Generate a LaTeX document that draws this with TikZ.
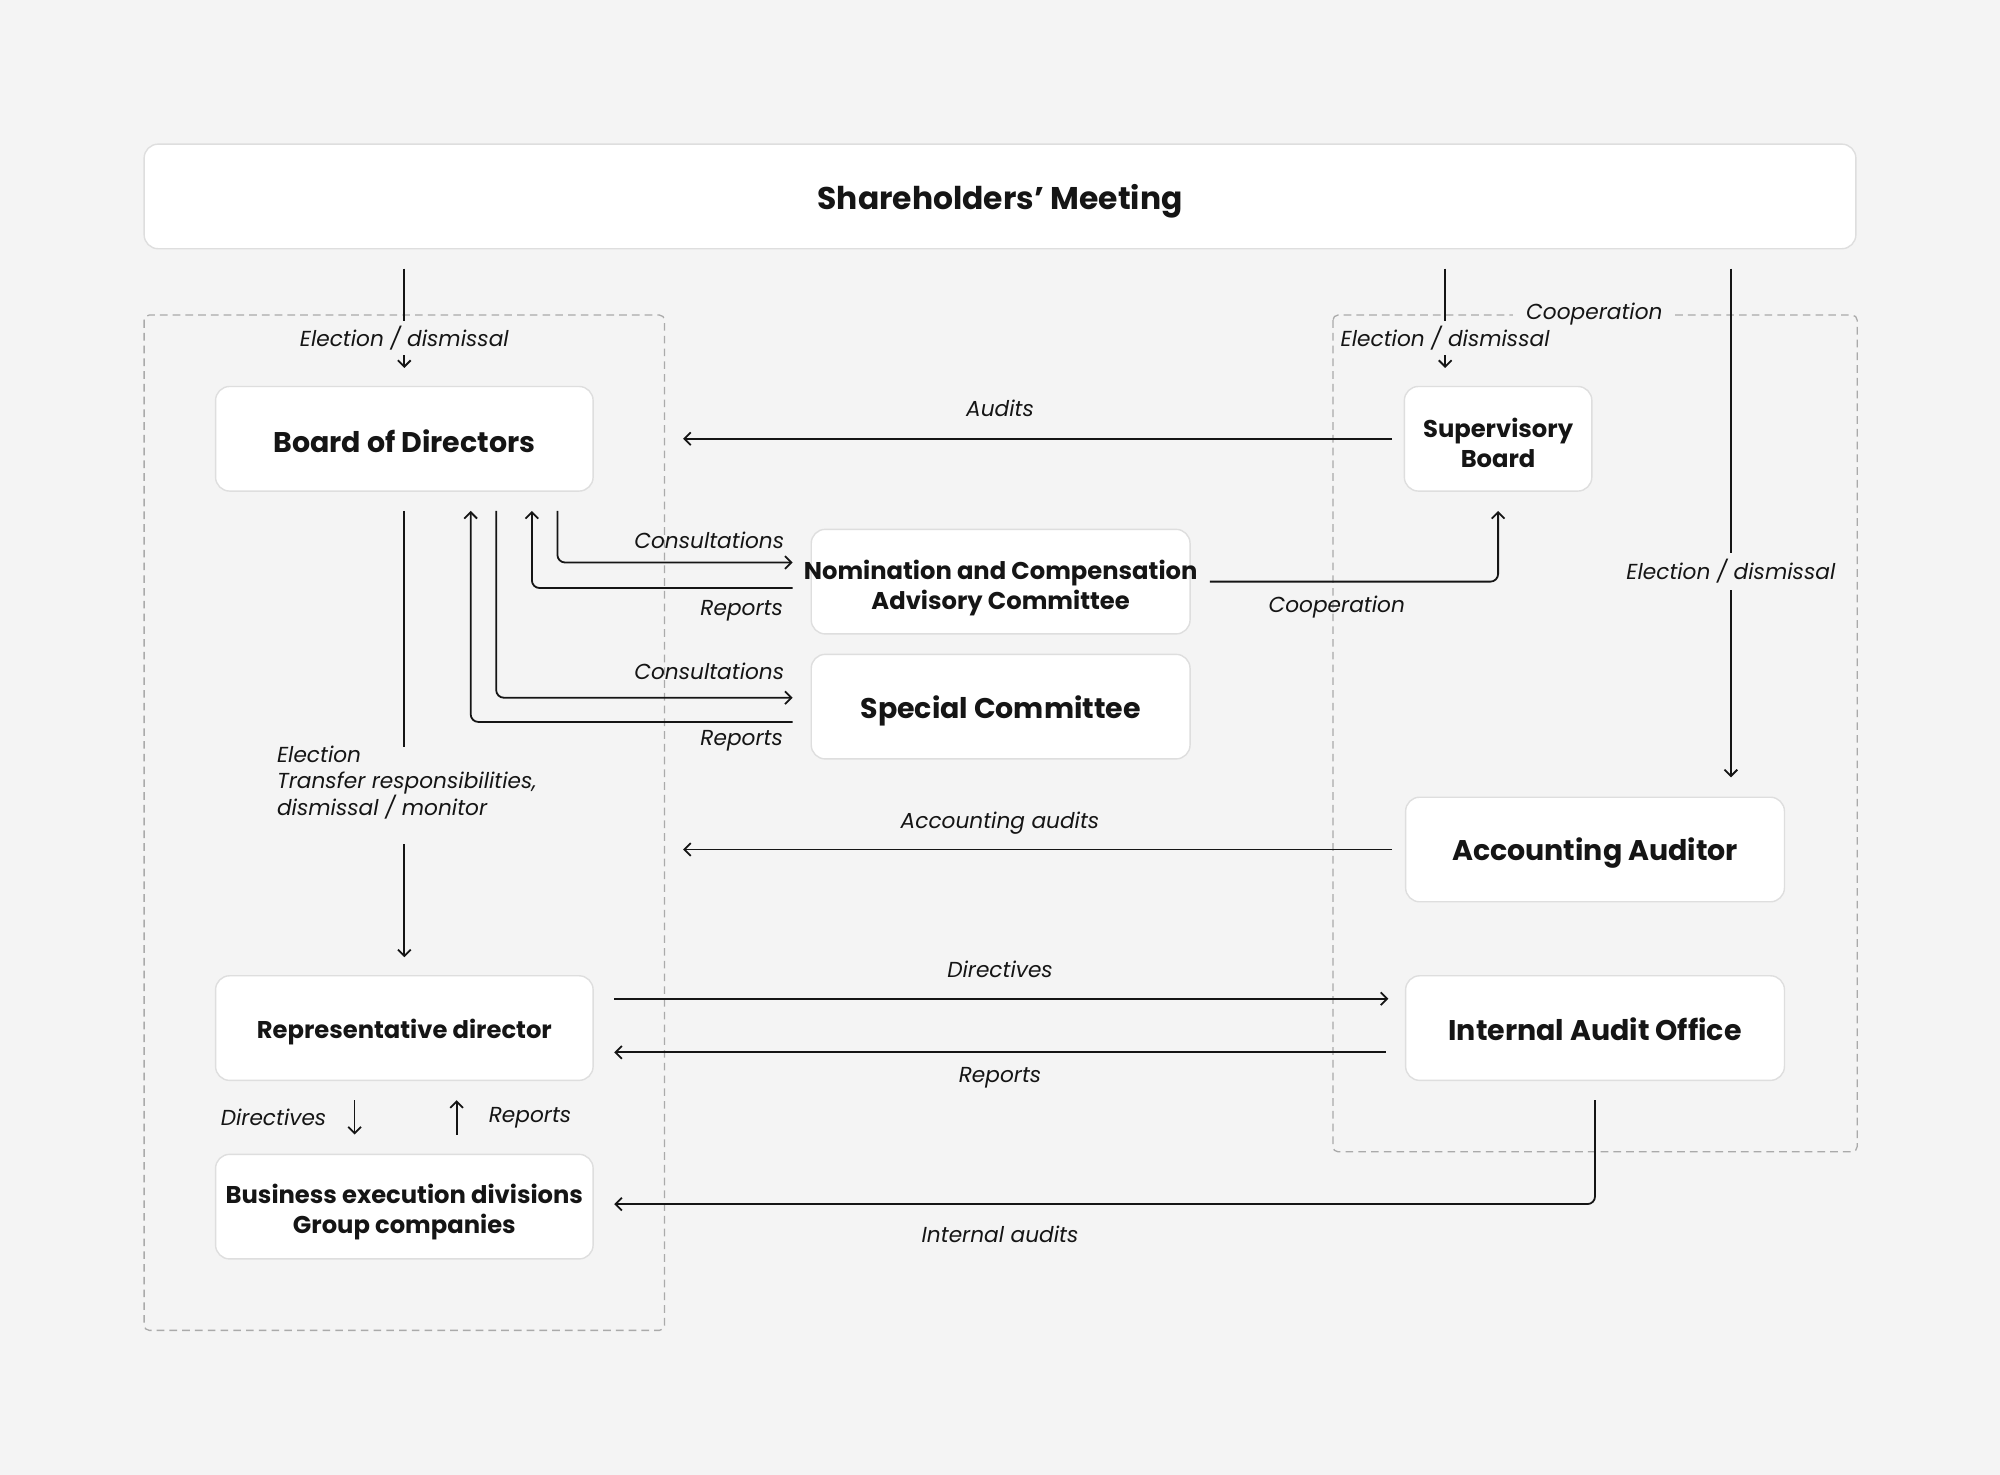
\documentclass[tikz,border=0pt]{standalone}
\usepackage{fontspec}
\setmainfont{Poppins}
\usetikzlibrary{arrows.meta,calc}
\definecolor{bgc}{HTML}{F4F4F4}
\definecolor{boxline}{HTML}{DEDEDE}
\definecolor{dashc}{HTML}{AAAAAA}
\definecolor{ink}{HTML}{151515}
\tikzset{
  x=1pt, y=-1pt,
  box/.style={draw=boxline, line width=1.1pt, fill=white, rounded corners=11pt,
    minimum width=296pt, minimum height=82pt, inner sep=0pt},
  btext/.style={inner sep=0pt, text depth=0pt, align=center, text=ink,
    font=\bfseries\fontsize{22.3}{26}\selectfont},
  stext/.style={btext, font=\bfseries\fontsize{19}{23.5}\selectfont},
  lab/.style={font=\itshape\fontsize{17}{20}\selectfont, text=ink, inner xsep=0pt, inner ysep=4pt},
  dashbox/.style={draw=dashc, line width=1pt, dash pattern=on 6pt off 4pt, rounded corners=4pt},
  conn/.style={draw=ink, line width=1.4pt},
  arr/.style={conn, -{Straight Barb[length=5pt,width=10pt,line width=1.4pt]}},
}
\begin{document}
\begin{tikzpicture}
\fill[bgc] (0,0) rectangle (1568,1156);
\useasboundingbox (0,0) rectangle (1568,1156);

% dashed groups
\draw[dashbox] (113,247) rectangle (521,1043);
\draw[dashbox] (1045,247) rectangle (1456,903);
\node[lab, fill=bgc, inner xsep=10pt, inner ysep=2pt] (coopTop) at (1250,246) {Cooperation};

% boxes
\node[box, minimum width=1342pt] (sh) at (784,154) {};
\node[box] (bod) at (317,344) {};
\node[box, minimum width=147pt] (sb) at (1174.5,344) {};
\node[box, minimum width=297pt] (ncac) at (784.5,456) {};
\node[box, minimum width=297pt] (sc) at (784.5,554) {};
\node[box, minimum width=297pt] (aa) at (1250.5,666) {};
\node[box, minimum width=297pt] (iao) at (1250.5,806) {};
\node[box] (rd) at (317,806) {};
\node[box] (bed) at (317,946) {};

% box texts
\node[btext, font=\bfseries\fontsize{24.6}{28}\selectfont] (shT) at ([yshift=-0.5pt]sh.center) {Shareholders’ Meeting};
\node[btext] (bodT) at ([yshift=-2pt]bod.center) {Board of Directors};
\node[stext] (sbT) at ([yshift=-3.2pt]sb.center) {Supervisory\\Board};
\node[stext] (ncacT) at ([yshift=-2.7pt]ncac.center) {Nomination and Compensation\\Advisory Committee};
\node[btext] (scT) at ([yshift=-0.5pt]sc.center) {Special Committee};
\node[btext] (aaT) at (aa.center) {Accounting Auditor};
\node[btext] (iaoT) at ([yshift=-1pt]iao.center) {Internal Audit Office};
\node[stext] (rdT) at ([yshift=-0.3pt]rd.center) {Representative director};
\node[stext] (bedT) at ([yshift=-1.4pt]bed.center) {Business execution divisions\\Group companies};

% Election / dismissal -> Board of Directors
\node[lab] (e1) at (317,265) {Election / dismissal};
\draw[conn, shorten <=15pt] (e1.north |- sh.south) -- (e1.north);
\draw[arr, shorten >=14pt] (e1.south) -- (e1.south |- bod.north);

% Election / dismissal -> Supervisory Board
\node[lab] (e2) at (1133,265) {Election / dismissal};
\draw[conn, shorten <=15pt] (e2.north |- sh.south) -- (e2.north);
\draw[arr, shorten >=14pt] (e2.south) -- (e2.south |- sb.north);

% Election / dismissal -> Accounting Auditor
\node[lab, inner ysep=5pt] (e3) at (1357,448) {Election / dismissal};
\draw[conn, shorten <=15pt] (e3.north |- sh.south) -- (e3.north);
\draw[arr, shorten >=15pt] (e3.south) -- (e3.south |- aa.north);

% Audits
\node[lab] (lAudits) at (784,320) {Audits};
\draw[arr, shorten <=9pt, shorten >=70pt] (sb.west) -- (bod.east |- sb.west);

% Consultations / Reports with NCAC
\node[lab, anchor=east] (lc1) at (615,424) {Consultations};
\node[lab, anchor=east] (lr1) at (614,479) {Reports};
\draw[arr, rounded corners=6pt] ([xshift=120pt,yshift=-15pt]bod.south) |- ([xshift=-14pt]ncac.west |- 0,441);
\draw[arr, rounded corners=6pt] ([xshift=-14pt]ncac.west |- 0,461) -| ([xshift=100pt,yshift=-15pt]bod.south);

% Consultations / Reports with Special Committee
\node[lab, anchor=east] (lc2) at (615,526) {Consultations};
\node[lab, anchor=east] (lr2) at (614,581) {Reports};
\draw[arr, rounded corners=6pt] ([xshift=72pt,yshift=-15pt]bod.south) |- ([xshift=-14pt]sc.west |- 0,547);
\draw[arr, rounded corners=6pt] ([xshift=-14pt]sc.west |- 0,566) -| ([xshift=52pt,yshift=-15pt]bod.south);

% Cooperation NCAC -> Supervisory Board
\node[lab] (lcoop) at (1048,476) {Cooperation};
\draw[arr, rounded corners=6pt] ([xshift=15pt]ncac.east |- 0,456) -| ([yshift=-15pt]sb.south);

% Accounting audits
\node[lab] (lAcc) at (784,645) {Accounting audits};
\draw[arr, shorten <=10pt, shorten >=70pt] (aa.west) -- (bod.east |- aa.west);

% Board -> Representative director
\coordinate (elA) at (317,586);
\coordinate (elB) at (317,662);
\node[lab, anchor=north west, align=left, inner sep=0pt] (lel) at (217,585) {Election\\Transfer responsibilities,\\dismissal / monitor};
\draw[conn, shorten <=15pt] (bod.south) -- (elA);
\draw[arr, shorten >=14pt] (elB) -- (rd.north);

% Directives / Reports with Internal Audit Office
\node[lab] (lDir) at (784,760) {Directives};
\node[lab] (lRep) at (784,845) {Reports};
\draw[arr] ([xshift=16pt]rd.east |- 0,783) -- ([xshift=-13pt]iao.west |- 0,783);
\draw[arr] ([xshift=-15pt]iao.west |- 0,825) -- ([xshift=16pt]rd.east |- 0,825);

% Directives / Reports between rd and bed
\node[lab, anchor=east] (lDir2) at (256,876) {Directives};
\node[lab, anchor=west] (lRep2) at (383,876) {Reports};
\draw[arr, shorten <=15pt, shorten >=15pt] ([xshift=-39pt]rd.south) -- ([xshift=-39pt]bed.north);
\draw[arr, shorten <=15pt, shorten >=15pt] ([xshift=41pt]bed.north) -- ([xshift=41pt]rd.south);

% Internal audits
\node[lab] (lIA) at (784,968) {Internal audits};
\draw[arr, rounded corners=6pt] ([yshift=-15pt]iao.south) |- ([xshift=16pt]bed.east |- 0,944);
\end{tikzpicture}
\end{document}
